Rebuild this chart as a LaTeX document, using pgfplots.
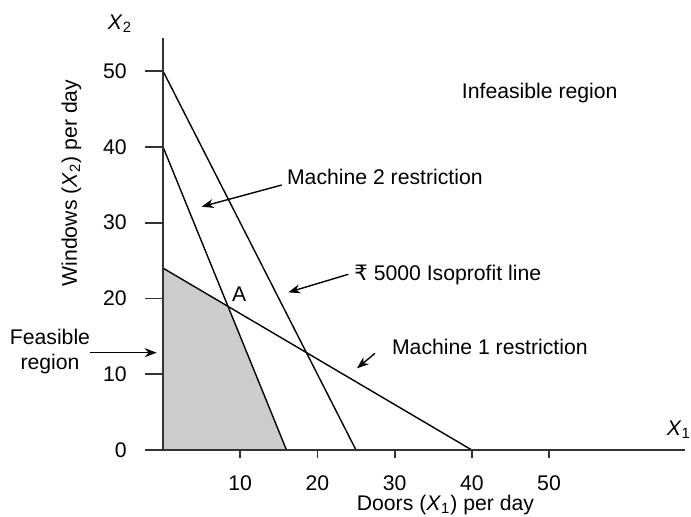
\documentclass[border=0pt]{standalone}
\usepackage{fontspec}
\setmainfont{Liberation Sans}
\newfontfamily\rupeefont{DejaVu Sans}
\usepackage{pgfplots}
\pgfplotsset{compat=1.18}
\usetikzlibrary{arrows.meta}
\newcommand\fsz{\fontsize{10.6}{12.7}\selectfont}
\begin{document}
\begin{tikzpicture}
\begin{axis}[
  x=3.86pt, y=3.79pt,
  xmin=-2.33, xmax=67.6, ymin=0, ymax=54.35,
  axis lines=middle,
  axis line style={-, line width=1pt, black!80},
  xtick={10,20,30,40,50}, ytick={0,10,20,30,40,50},
  hide obscured x ticks=false, hide obscured y ticks=false,
  tick align=outside,
  major tick length=4pt,
  tick style={line width=0.9pt, black!80},
  ytick style={/pgfplots/major tick length=9pt},
  xticklabel style={anchor=north, inner sep=0pt, yshift=-8.5pt, font=\fsz},
  yticklabel style={anchor=east, inner sep=0pt, xshift=-14pt, font=\fsz},
  /pgf/number format/assume math mode=true,
  clip=false,
  axis on top,
]
% feasible region
\addplot[fill=black!20, draw=none] coordinates {(0,0) (0,24) (8.421,18.947) (16,0)} -- cycle;
% Machine 1 restriction
\addplot[black, line width=0.7pt, mark=none] coordinates {(0,24) (40,0)};
% Machine 2 restriction
\addplot[black, line width=0.7pt, mark=none] coordinates {(0,40) (16,0)};
% Isoprofit line
\addplot[black, line width=0.7pt, mark=none] coordinates {(0,50) (25,0)};

\coordinate (bl) at (axis cs:-21.114,-8.707);
\coordinate (tr) at (axis cs:68.394,59.367);

\node[font=\fsz, inner sep=0pt] at (axis cs:-5.57,56.2) {\textit{X}\textsubscript{2}};
\node[font=\fsz, inner sep=0pt, anchor=base west] at (axis cs:65.2,1.98) {\textit{X}\textsubscript{1}};
\node[font=\fsz, inner sep=0pt, rotate=90] at (axis cs:-11.88,35.22) {Windows (\textit{X}\textsubscript{2}) per day};
\node[font=\fsz, inner sep=0pt, anchor=base] at (axis cs:36.59,-7.95) {Doors (\textit{X}\textsubscript{1}) per day};

\node[font=\fsz, inner sep=0pt] at (axis cs:48.8,47.14) {Infeasible region};
\node[font=\fsz, inner sep=0pt, anchor=west] at (axis cs:16.02,36.02) {Machine 2 restriction};
\draw[line width=0.7pt, -{Stealth[length=6pt,width=4.5pt]}] (axis cs:15.38,34.96) -- (axis cs:5.01,32.10);
\node[font=\fsz, inner sep=0pt, anchor=west] at (axis cs:24.74,23.09) {{\rupeefont ₹} 5000 Isoprofit line};
\draw[line width=0.7pt, -{Stealth[length=6pt,width=4.5pt]}] (axis cs:24.0,23.18) -- (axis cs:16.23,20.8);
\node[font=\fsz, inner sep=0pt, anchor=west] at (axis cs:29.62,13.63) {Machine 1 restriction};
\draw[line width=0.7pt, -{Stealth[length=6pt,width=4.5pt]}] (axis cs:27.46,12.76) -- (axis cs:25.13,10.78);
\node[font=\fsz, inner sep=0pt, align=center] at (axis cs:-14.64,13.0) {Feasible\\region};
\draw[line width=0.7pt, -{Stealth[length=6pt,width=4.5pt]}] (axis cs:-9.46,12.84) -- (axis cs:-0.82,12.84);
\node[font=\fsz, inner sep=0pt] at (axis cs:9.88,20.58) {A};
\end{axis}
\pgfresetboundingbox
\path[use as bounding box] (bl) rectangle (tr);
\end{tikzpicture}
\end{document}
